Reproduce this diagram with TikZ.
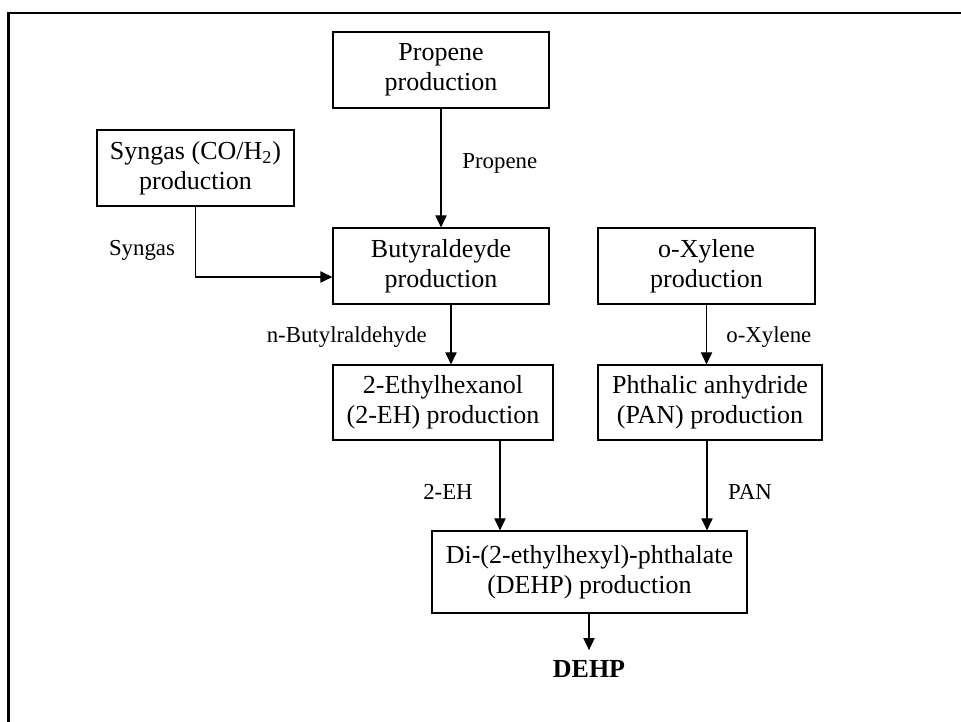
\documentclass[tikz,border=0pt]{standalone}
\usepackage{fontspec}
\setmainfont{Liberation Serif}
\usetikzlibrary{arrows.meta}

\begin{document}
\begin{tikzpicture}[x=0.02cm, y=-0.02cm,
        node rect/.style = {rectangle, draw, line width=0.7pt, align=center, inner sep=2pt, font=\fontsize{14.8}{17}\selectfont, minimum height=1.52cm},
        node label/.style = {inner sep=0pt, font=\fontsize{13}{15}\selectfont},
        flow/.style = {-{Triangle[length=6.8pt, width=6.4pt]}, line width=0.6pt},
        ]
        \useasboundingbox (0,0) rectangle (961,722);
        \draw[line width=1.3pt] (8.5,722) -- (8.5,13) -- (961,13);

        % Feedstock nodes
        \node[node rect, minimum width=4.32cm] (propene) at (441,70) {Propene\\production};
        \node[node rect, minimum width=3.94cm] (syngas) at (195.5,168) {Syngas (CO/H\textsubscript{2})\\production};

        % Intermediate nodes
        \node[node rect, minimum width=4.32cm] (butyr) at (441,266) {Butyraldeyde\\production};
        \node[node rect, minimum width=4.34cm] (oxylene) at (706.5,266) {o-Xylene\\production};
        \node[node rect, minimum width=4.4cm, minimum height=1.5cm] (ethylhex) at (443,402.5) {2-Ethylhexanol\\(2-EH) production};
        \node[node rect, minimum width=4.48cm, minimum height=1.5cm] (phthalic) at (710,402.5) {Phthalic anhydride\\(PAN) production};

        % Final nodes
        \node[node rect, minimum width=6.3cm, minimum height=1.64cm] (dehp) at (589.5,572) {Di-(2-ethylhexyl)-phthalate\\(DEHP) production};
        \node[anchor=base, inner sep=6pt, font=\fontsize{14.8}{17}\selectfont\bfseries] (product) at (589,678) {DEHP};

        % Flows
        \draw[flow] (propene) -- (butyr);
        \draw[flow] (syngas.south) |- ([yshift=-0.22cm]butyr.west);
        \draw[flow] ([xshift=0.2cm]butyr.south) -- ([xshift=0.2cm]butyr.south |- ethylhex.north);
        \draw[flow] (oxylene.south) -- (oxylene.south |- phthalic.north);
        \draw[flow] ([xshift=1.14cm]ethylhex.south) -- ([xshift=1.14cm]ethylhex.south |- dehp.north);
        \draw[flow] ([xshift=-0.06cm]phthalic.south) -- ([xshift=-0.06cm]phthalic.south |- dehp.north);
        \draw[flow] (dehp.south -| product) -- (product.north);

        % Flow labels
        \node[node label, anchor=base west] (lpropene) at (462,169) {Propene};
        \node[node label, anchor=base] (lsyngas) at (142,256) {Syngas};
        \node[node label, anchor=base east] (lbutyr) at (427,343) {n-Butylraldehyde};
        \node[node label, anchor=base west] (loxylene) at (726,343) {o-Xylene};
        \node[node label, anchor=base] (lethylhex) at (448,500) {2-EH};
        \node[node label, anchor=base] (lphthalic) at (750,500) {PAN};
    \end{tikzpicture}
\end{document}
